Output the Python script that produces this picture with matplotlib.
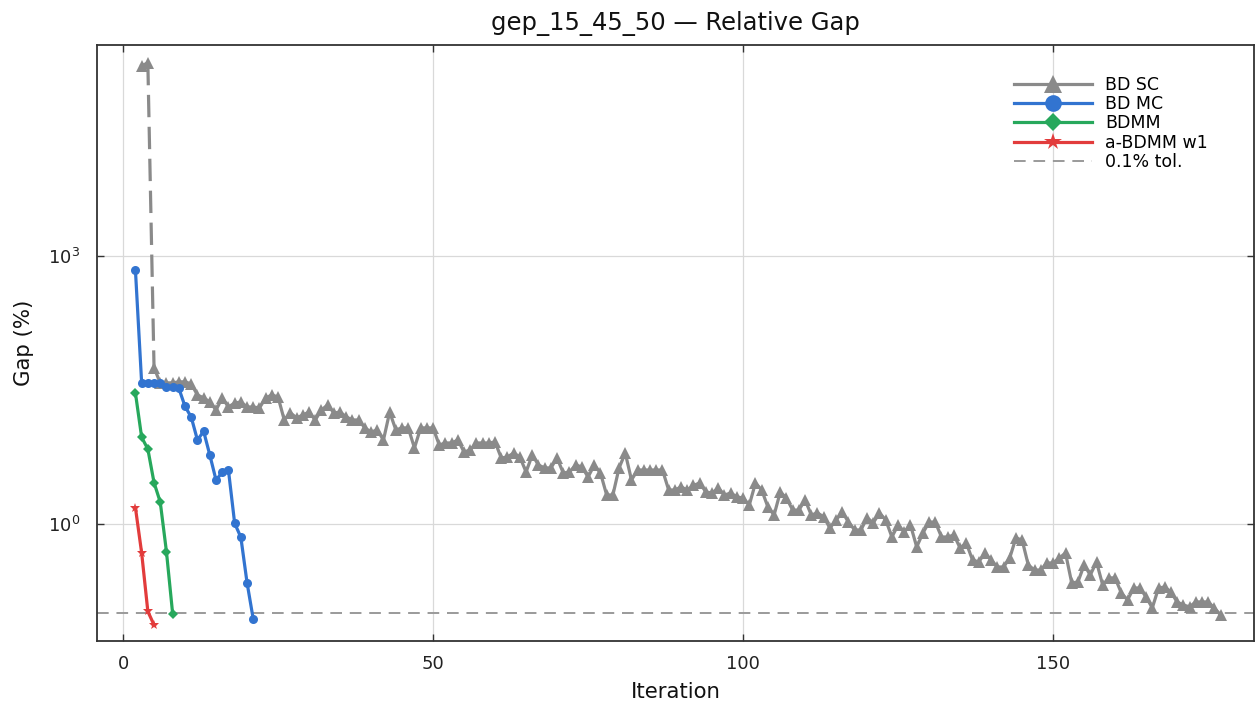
import matplotlib
matplotlib.use("Agg")
import matplotlib.pyplot as plt
from matplotlib.lines import Line2D
from matplotlib.ticker import FixedLocator, NullLocator

# ---------------- data ----------------
title = "gep_15_45_50 \u2014 Relative Gap"
xlabel = "Iteration"
ylabel = "Gap (%)"
series_labels = ["BD SC", "BD MC", "BDMM", "a-BDMM w1"]
tol_label = "0.1% tol."
tol_value = 0.1

bdsc_iter = list(range(3, 178))
bdsc_gap = [
    1.35e5, 1.45e5, 56.0, 38.0, 38.0, 38.0, 39.0, 39.0, 37.0, 27.8,
    25.8, 23.2, 18.9, 25.8, 20.4, 22.6, 23.2, 20.4, 20.4, 19.9,
    25.8, 27.8, 26.4, 14.6, 17.5, 15.4, 16.6, 17.9, 14.6, 18.9,
    21.5, 17.5, 17.9, 15.8, 14.6, 14.6, 11.9, 10.7, 11.3, 8.71,
    17.9, 11.3, 11.9, 11.9, 7.10, 11.9, 11.9, 11.9, 7.66, 8.07,
    8.07, 8.71, 6.40, 6.74, 8.07, 8.07, 8.07, 8.28, 5.48, 5.62,
    6.23, 5.62, 3.82, 5.92, 4.57, 4.24, 4.24, 5.48, 3.72, 3.82,
    4.57, 4.35, 3.36, 4.57, 3.72, 2.11, 2.11, 4.24, 6.23, 3.11,
    4.02, 4.02, 4.02, 4.02, 4.02, 2.40, 2.40, 2.60, 2.40, 2.70,
    2.88, 2.28, 2.22, 2.53, 2.11, 2.22, 2.01, 1.95, 1.63, 2.88,
    2.40, 1.55, 1.26, 2.28, 1.95, 1.43, 1.43, 1.86, 1.26, 1.33,
    1.20, 0.902, 1.11, 1.36, 1.05, 0.857, 0.857, 1.17, 1.03, 1.33,
    1.11, 0.715, 0.975, 0.813, 0.975, 0.553, 0.793, 1.05, 1.05, 0.715,
    0.715, 0.753, 0.539, 0.612, 0.395, 0.376, 0.473, 0.395, 0.330, 0.330,
    0.416, 0.697, 0.662, 0.347, 0.305, 0.305, 0.366, 0.366, 0.416, 0.473,
    0.219, 0.224, 0.347, 0.269, 0.376, 0.207, 0.249, 0.249, 0.169, 0.141,
    0.192, 0.192, 0.152, 0.115, 0.192, 0.197, 0.173, 0.134, 0.124, 0.118,
    0.134, 0.134, 0.134, 0.115, 0.096,
]

bdmc_iter = list(range(2, 22))
bdmc_gap = [690.0, 38.0, 38.0, 38.0, 38.0, 34.0, 34.0, 33.0, 20.7, 15.7,
            8.7, 10.9, 5.9, 3.1, 3.8, 4.0, 1.02, 0.71, 0.22, 0.086]

bdmm_iter = list(range(2, 9))
bdmm_gap = [29.2, 9.35, 6.9, 2.9, 1.76, 0.49, 0.099]

abdmm_iter = list(range(2, 6))
abdmm_gap = [1.52, 0.475, 0.105, 0.074]

xticks = [0, 50, 100, 150]
yticks = [1.0, 1000.0]
ytick_labels = [r"$10^{0}$", r"$10^{3}$"]
xlim = (-4.2, 182.4)
ylim = (10 ** -1.31, 10 ** 5.362)

# ---------------- styles ----------------
c_gray = "#8a8a8a"
c_blue = "#3274d0"
c_green = "#27a85c"
c_red = "#e23c3c"
c_tol = "#9a9a9a"

plt.rcParams["font.family"] = ["DejaVu Sans"]
plt.rcParams["mathtext.fontset"] = "dejavusans"

fig = plt.figure(figsize=(12.55, 7.02), dpi=100)
W, H = 1255, 702
ax = fig.add_axes([97 / W, 1 - 641 / H, (1254 - 97) / W, (641 - 45) / H])

lw = 2.3
# BD SC: solid first pair, dashed jump, solid remainder
ax.plot(bdsc_iter[:2], bdsc_gap[:2], color=c_gray, lw=lw, marker="^", ms=8,
        markeredgewidth=0, zorder=3)
ax.plot(bdsc_iter[1:3], bdsc_gap[1:3], color=c_gray, lw=lw,
        linestyle=(0, (7, 3)), zorder=2)
ax.plot(bdsc_iter[2:], bdsc_gap[2:], color=c_gray, lw=lw, marker="^", ms=8,
        markeredgewidth=0, zorder=3)

ax.plot(bdmc_iter, bdmc_gap, color=c_blue, lw=lw, marker="o", ms=6.5,
        markeredgewidth=0, zorder=4)
ax.plot(bdmm_iter, bdmm_gap, color=c_green, lw=lw, marker="D", ms=5.2,
        markeredgewidth=0, zorder=5)
ax.plot(abdmm_iter, abdmm_gap, color=c_red, lw=lw, marker="*", ms=7.5,
        markeredgewidth=0, zorder=6)

ax.axhline(tol_value, color=c_tol, lw=1.4, linestyle=(0, (6, 4)), zorder=1)

ax.set_yscale("log")
ax.set_xlim(*xlim)
ax.set_ylim(*ylim)
ax.xaxis.set_major_locator(FixedLocator(xticks))
ax.yaxis.set_major_locator(FixedLocator(yticks))
ax.yaxis.set_minor_locator(NullLocator())
ax.xaxis.set_minor_locator(NullLocator())
ax.set_yticklabels(ytick_labels)
ax.set_xticklabels([str(t) for t in xticks])

ax.grid(True, color="#d9d9d9", lw=0.9, zorder=0)
ax.set_axisbelow(True)
for s in ax.spines.values():
    s.set_color("#333333")
    s.set_linewidth(1.3)
ax.tick_params(direction="in", top=True, right=True, length=5, width=1,
               colors="#333333", labelcolor="#222222", labelsize=13)
ax.tick_params(axis="x", pad=10)
ax.tick_params(axis="y", pad=12)

ax.set_title(title, fontsize=17.5, color="#111111", pad=11)
ax.set_xlabel(xlabel, fontsize=15.3, color="#111111")
ax.set_ylabel(ylabel, fontsize=15.3, color="#111111")
ax.xaxis.set_label_coords(0.5, (641 - 682) / 596)
ax.yaxis.set_label_coords((34 - 97) / 1157, 0.5)

handles = [
    Line2D([], [], color=c_gray, lw=lw, marker="^", ms=13, markeredgewidth=0),
    Line2D([], [], color=c_blue, lw=lw, marker="o", ms=12, markeredgewidth=0),
    Line2D([], [], color=c_green, lw=lw, marker="D", ms=9, markeredgewidth=0),
    Line2D([], [], color=c_red, lw=lw, marker="*", ms=13, markeredgewidth=0),
    Line2D([], [], color=c_tol, lw=1.4, linestyle=(0, (6, 4))),
]
leg = ax.legend(handles, series_labels + [tol_label], loc="upper left",
                bbox_to_anchor=(1014 / W, 1 - 76 / H),
                bbox_transform=fig.transFigure, frameon=False,
                fontsize=12.5, handlelength=4.5, handletextpad=0.75,
                labelspacing=0.07, borderaxespad=0, borderpad=0)

fig.savefig("out.png", dpi=100)
